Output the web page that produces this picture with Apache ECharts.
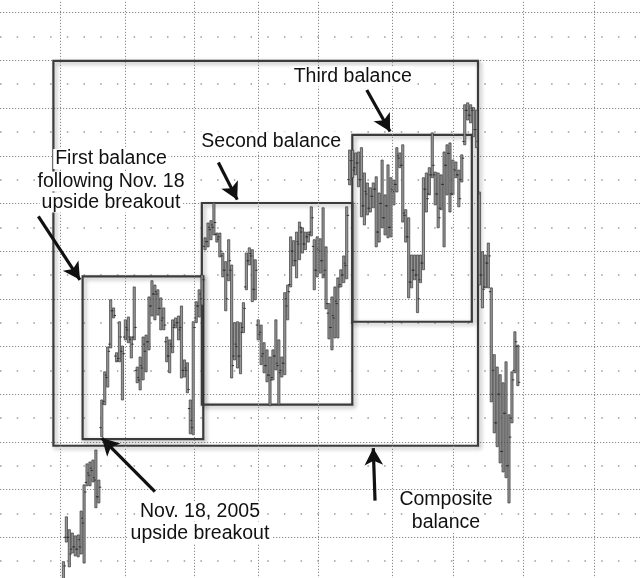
<!DOCTYPE html>
<html>
<head>
<meta charset="utf-8">
<script src="https://cdn.jsdelivr.net/npm/echarts@6/dist/echarts.min.js"></script>
<style>
  html, body { margin: 0; padding: 0; background: #fff; overflow: hidden; }
  body { width: 640px; height: 578px; position: relative; }
  /* plot is taller than the window so the price grid lines fall where the scan has them */
  #chart { position: absolute; left: 0; top: -35px; width: 640px; height: 620px; }
</style>
</head>
<body>
<div id="chart"></div>
<script>
// daily price bars, left to right (trading day index = position in array)
var highs = [
  1204.9, 1214.3, 1211.6, 1210.9, 1210.3, 1210.5, 1215.5, 1221.0, 1225.4, 1225.8,
  1226.2, 1228.3, 1222.0, 1238.8, 1244.7, 1249.9, 1259.8, 1258.1, 1248.7, 1255.2,
  1250.1, 1255.6, 1256.2, 1252.0, 1262.5, 1245.7, 1247.8, 1252.0, 1252.4, 1260.4,
  1263.8, 1262.9, 1261.9, 1260.2, 1258.1, 1252.0, 1251.4, 1255.6, 1256.0, 1256.4,
  1258.5, 1247.2, 1246.6, 1238.8, 1255.2, 1259.4, 1261.9, 1265.0, 1272.8, 1275.9,
  1276.4, 1280.1, 1273.8, 1273.8, 1269.6, 1267.8, 1272.4, 1267.1, 1255.0, 1255.2,
  1255.0, 1259.2, 1269.6, 1270.7, 1270.3, 1268.2, 1255.6, 1254.5, 1250.8, 1249.3,
  1247.8, 1249.3, 1255.6, 1251.4, 1247.8, 1261.3, 1262.9, 1273.0, 1272.2, 1274.0,
  1276.1, 1274.9, 1274.0, 1274.0, 1279.3, 1272.4, 1273.0, 1272.6, 1279.1, 1270.9,
  1259.0, 1260.4, 1262.5, 1264.4, 1266.1, 1269.0, 1279.3, 1291.2, 1291.2, 1290.6,
  1290.8, 1291.7, 1286.4, 1284.3, 1283.3,
  1284.3, 1285.6, 1282.2, 1289.1, 1281.8, 1288.1, 1285.4, 1284.9, 1291.7, 1290.6,
  1292.3, 1278.7, 1277.0, 1269.2, 1269.2, 1269.2, 1269.2, 1285.4, 1286.4, 1287.5,
  1294.8, 1286.6,
  1286.4, 1286.0, 1290.8, 1292.3, 1292.7, 1289.1, 1288.7, 1287.0, 1290.2, 1300.7,
  1301.1, 1300.7,
  1300.1, 1299.6, 1282.4, 1269.9, 1269.2, 1271.7, 1262.3, 1248.3, 1245.7, 1244.1,
  1242.4, 1246.8, 1235.7, 1244.7, 1253.1, 1250.3
];
var lows = [
  1200.2, 1209.0, 1203.8, 1206.7, 1206.1, 1205.9, 1206.5, 1204.6, 1220.8, 1220.8,
  1221.6, 1216.2, 1217.2, 1231.1, 1237.8, 1241.5, 1249.7, 1256.0, 1246.8, 1246.8,
  1238.8, 1251.4, 1250.8, 1247.6, 1251.4, 1242.4, 1240.9, 1243.0, 1244.7, 1249.3,
  1256.4, 1255.6, 1256.6, 1253.5, 1253.5, 1246.8, 1244.5, 1248.7, 1253.9, 1251.4,
  1243.4, 1243.6, 1240.3, 1231.7, 1231.5, 1255.0, 1256.2, 1258.7, 1270.3, 1270.9,
  1272.4, 1273.4, 1271.9, 1268.8, 1264.6, 1257.5, 1263.8, 1243.4, 1247.2, 1245.5,
  1244.3, 1252.9, 1261.9, 1267.1, 1259.4, 1259.8, 1251.4, 1246.2, 1244.5, 1242.6,
  1237.6, 1243.0, 1245.1, 1237.8, 1243.6, 1244.1, 1255.6, 1262.5, 1266.9, 1264.4,
  1268.2, 1269.6, 1270.3, 1271.9, 1273.2, 1261.9, 1264.6, 1265.4, 1264.4, 1257.9,
  1251.6, 1249.3, 1251.8, 1251.8, 1262.5, 1263.4, 1264.2, 1283.9, 1285.4, 1286.0,
  1283.5, 1277.2, 1275.5, 1277.6, 1278.2,
  1279.1, 1270.9, 1271.9, 1274.9, 1273.4, 1272.8, 1273.0, 1279.7, 1282.4, 1287.5,
  1276.1, 1271.9, 1260.2, 1262.3, 1264.0, 1257.1, 1263.4, 1266.1, 1278.2, 1281.8,
  1285.4, 1279.7,
  1274.9, 1278.7, 1270.9, 1281.8, 1278.2, 1281.8, 1285.4, 1279.3, 1284.5, 1292.3,
  1297.5, 1296.9,
  1294.0, 1291.7, 1262.9, 1258.1, 1262.3, 1262.3, 1238.4, 1231.9, 1229.0, 1225.6,
  1223.7, 1222.5, 1217.2, 1234.0, 1244.5, 1241.8
];
var opens = [
  1201.0, 1210.0, 1210.0, 1207.5, 1208.0, 1207.5, 1208.0, 1213.0, 1221.5, 1223.0,
  1224.0, 1222.0, 1218.5, 1233.0, 1238.5, 1243.5, 1250.5, 1257.5, 1248.0, 1247.5,
  1249.0, 1252.0, 1253.5, 1251.5, 1252.0, 1245.0, 1243.0, 1245.5, 1249.0, 1251.0,
  1258.5, 1261.0, 1261.0, 1258.0, 1256.0, 1251.0, 1248.0, 1250.0, 1254.5, 1255.0,
  1254.0, 1245.0, 1245.0, 1237.0, 1233.0, 1256.0, 1258.5, 1260.0, 1271.0, 1272.0,
  1274.5, 1275.0, 1273.5, 1273.0, 1269.0, 1266.0, 1265.0, 1266.0, 1248.0, 1250.0,
  1248.0, 1254.0, 1262.5, 1268.0, 1269.0, 1262.0, 1254.5, 1253.0, 1248.5, 1246.0,
  1244.0, 1243.5, 1248.0, 1246.0, 1245.0, 1246.5, 1258.5, 1263.0, 1270.0, 1268.0,
  1271.5, 1274.0, 1271.5, 1273.0, 1274.0, 1271.0, 1266.0, 1270.0, 1268.0, 1266.0,
  1257.0, 1254.0, 1256.0, 1259.0, 1263.0, 1265.0, 1267.0, 1285.0, 1289.0, 1287.5,
  1288.5, 1285.0, 1279.5, 1282.0, 1279.0,
  1281.5, 1283.0, 1274.0, 1280.0, 1277.0, 1279.5, 1275.0, 1282.5, 1284.0, 1289.5,
  1288.0, 1277.5, 1273.0, 1263.5, 1266.0, 1265.0, 1264.0, 1267.5, 1283.0, 1282.0,
  1286.0, 1286.0,
  1282.0, 1279.0, 1284.0, 1288.0, 1290.5, 1282.0, 1287.0, 1286.0, 1285.0, 1293.0,
  1299.5, 1298.5,
  1299.5, 1295.5, 1282.0, 1265.0, 1262.5, 1267.5, 1261.5, 1245.0, 1234.0, 1240.0,
  1228.0, 1236.0, 1225.0, 1235.0, 1245.0, 1250.0
];
var closes = [
  1204.0, 1210.0, 1206.5, 1208.0, 1207.5, 1209.5, 1214.0, 1219.5, 1223.5, 1224.5,
  1222.5, 1218.5, 1220.5, 1238.0, 1244.0, 1249.0, 1257.5, 1256.5, 1247.0, 1252.0,
  1248.5, 1254.0, 1252.0, 1250.5, 1254.0, 1243.5, 1246.0, 1250.5, 1251.0, 1258.5,
  1261.0, 1261.5, 1258.0, 1255.5, 1254.5, 1248.0, 1250.5, 1254.0, 1255.0, 1253.5,
  1245.0, 1245.5, 1241.0, 1234.5, 1254.0, 1258.5, 1261.0, 1264.0, 1272.0, 1275.0,
  1275.5, 1276.0, 1272.5, 1270.0, 1266.0, 1260.0, 1268.0, 1246.0, 1250.5, 1248.0,
  1253.0, 1258.0, 1268.0, 1269.5, 1262.0, 1266.0, 1252.5, 1248.0, 1246.0, 1244.0,
  1243.0, 1248.0, 1246.5, 1244.5, 1246.5, 1260.0, 1261.5, 1270.0, 1268.0, 1272.0,
  1275.0, 1271.5, 1273.0, 1273.5, 1277.0, 1266.0, 1270.5, 1268.0, 1265.0, 1259.0,
  1254.0, 1256.5, 1259.5, 1262.5, 1265.0, 1267.5, 1277.5, 1289.0, 1287.0, 1288.5,
  1285.0, 1279.5, 1282.5, 1279.0, 1281.5,
  1283.0, 1274.0, 1280.0, 1277.0, 1279.5, 1275.0, 1283.0, 1284.0, 1290.0, 1288.0,
  1278.0, 1273.0, 1263.5, 1266.0, 1265.0, 1260.0, 1267.5, 1283.0, 1281.0, 1286.0,
  1288.0, 1282.0,
  1277.0, 1284.0, 1288.0, 1290.5, 1282.0, 1287.0, 1286.0, 1281.0, 1289.5, 1299.5,
  1298.5, 1300.0,
  1295.5, 1293.0, 1265.0, 1262.0, 1267.5, 1269.0, 1240.0, 1234.0, 1240.0, 1228.0,
  1236.0, 1225.0, 1231.0, 1243.0, 1251.0, 1242.5
];

// month separators (in trading-day units)
var monthBreaks = [-1, 21, 44.5, 66, 86.5, 111.5, 132, 156, 180];

// balance areas: [firstDay, high, lastDay, low]
var balanceNames = ['Composite balance', 'First balance', 'Second balance', 'Third balance'];
var balanceBoxes = [
  [-3.4, 1309.9, 140.5, 1229.2],
  [6.5, 1264.7, 47.4, 1230.6],
  [46.9, 1280.1, 97.9, 1237.8],
  [97.9, 1294.4, 138.4, 1255.2]
];

// arrows: [fromDay, fromPrice, toDay, toPrice]
var arrows = [
  [102.8, 1303.8, 110.7, 1295.1],
  [52.5, 1288.6, 58.9, 1280.8],
  [-8.5, 1277.3, 5.6, 1264.0],
  [31.0, 1219.6, 13.0, 1230.8],
  [105.6, 1217.7, 105.0, 1228.7]
];

var bars = highs.map(function (h, i) {
  return [i, opens[i], h, lows[i], closes[i]];
});

function renderBar(params, api) {
  var d = api.value(0);
  var hi = api.coord([d, api.value(2)]);
  var lo = api.coord([d, api.value(3)]);
  var op = api.coord([d, api.value(1)]);
  var cl = api.coord([d, api.value(4)]);
  return {
    type: 'group',
    children: [
      {
        type: 'rect',
        shape: { x: hi[0] - 1.1, y: hi[1], width: 2.2, height: lo[1] - hi[1] },
        style: { fill: '#969696', stroke: '#383838', lineWidth: 0.7 }
      },
      {
        type: 'line',
        shape: { x1: op[0] - 2.4, y1: op[1], x2: op[0], y2: op[1] },
        style: { stroke: '#333', lineWidth: 1 }
      },
      {
        type: 'line',
        shape: { x1: cl[0], y1: cl[1], x2: cl[0] + 2.4, y2: cl[1] },
        style: { stroke: '#333', lineWidth: 1 }
      }
    ]
  };
}

var labelFont = '19.5px "Liberation Sans", Arial, Helvetica, sans-serif';
var shiftY = 35; // the chart div starts 35px above the window

function label(text, x, y, align) {
  return {
    type: 'text',
    z: 100,
    style: {
      text: text,
      x: x,
      y: y + shiftY,
      align: align,
      verticalAlign: 'middle',
      font: labelFont,
      fill: '#111',
      backgroundColor: '#fff',
      padding: [0, 2]
    }
  };
}

var option = {
  animation: false,
  backgroundColor: '#fff',
  grid: { left: 0, right: 0, top: 0, bottom: 0 },
  xAxis: {
    type: 'value',
    min: -21.5,
    max: 195.4,
    axisLine: { show: false },
    axisTick: { show: false },
    axisLabel: { show: false },
    splitLine: { show: false }
  },
  yAxis: {
    type: 'value',
    min: 1200,
    max: 1330,
    interval: 10,
    axisLine: { show: false },
    axisTick: { show: false },
    axisLabel: { show: false },
    splitLine: {
      show: true,
      lineStyle: { color: '#8a8a8a', width: 1, type: [1.2, 1.8] }
    },
    minorTick: { show: false, splitNumber: 2 },
    minorSplitLine: {
      show: true,
      lineStyle: { color: '#9a9a9a', width: 1.5, type: [1.5, 15.2] }
    }
  },
  graphic: [
    label('Third balance', 291.7, 76.5, 'left'),
    label('Second balance', 199.3, 141.5, 'left'),
    label('First balance', 111, 159, 'center'),
    label('following Nov. 18', 111, 181.5, 'center'),
    label('upside breakout', 111, 202.5, 'center'),
    label('Nov. 18, 2005', 200, 511.5, 'center'),
    label('upside breakout', 200, 533.2, 'center'),
    label('Composite', 446, 499.9, 'center'),
    label('balance', 446, 522.5, 'center')
  ],
  series: [
    {
      name: 'months',
      type: 'line',
      data: [],
      z: 1,
      silent: true,
      markLine: {
        silent: true,
        symbol: 'none',
        label: { show: false },
        lineStyle: { color: '#8a8a8a', width: 1, type: [1.2, 1.8] },
        data: monthBreaks.map(function (d) { return { xAxis: d }; })
      }
    },
    {
      name: 'bars',
      type: 'custom',
      z: 3,
      silent: true,
      renderItem: renderBar,
      encode: { x: 0, y: [1, 2, 3, 4] },
      data: bars
    },
    {
      name: 'balances',
      type: 'line',
      data: [],
      z: 4,
      silent: true,
      markArea: {
        silent: true,
        label: { show: false },
        itemStyle: {
          color: 'rgba(0,0,0,0)',
          borderColor: '#3b3b3b',
          borderWidth: 2.2,
          shadowBlur: 4,
          shadowColor: 'rgba(0,0,0,0.35)',
          shadowOffsetX: 2,
          shadowOffsetY: 2
        },
        data: balanceBoxes.map(function (b, i) {
          return [
            { name: balanceNames[i], coord: [b[0], b[1]] },
            { coord: [b[2], b[3]] }
          ];
        })
      }
    },
    {
      name: 'arrows',
      type: 'line',
      data: [],
      z: 5,
      silent: true,
      markLine: {
        silent: true,
        symbol: ['none', 'arrow'],
        symbolSize: [14, 17],
        label: { show: false },
        lineStyle: { color: '#111', width: 3.2, type: 'solid' },
        data: arrows.map(function (a) {
          return [{ coord: [a[0], a[1]] }, { coord: [a[2], a[3]] }];
        })
      }
    }
  ]
};

var chart = echarts.init(document.getElementById('chart'));
chart.setOption(option);
</script>
</body>
</html>
